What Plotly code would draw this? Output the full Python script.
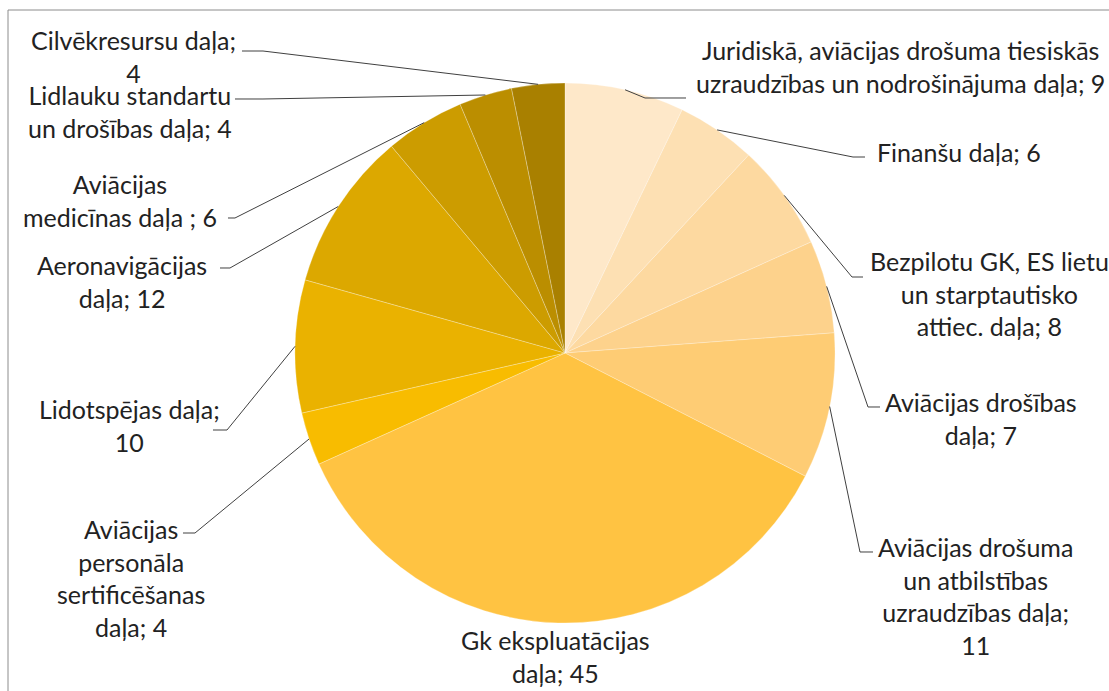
import math
import plotly.graph_objects as go

W, H = 1109, 691

categories = [
    "Juridiskā, aviācijas drošuma tiesiskās<br>uzraudzības un nodrošinājuma daļa; 9",
    "Finanšu daļa; 6",
    "Bezpilotu GK, ES lietu<br>un starptautisko<br>attiec. daļa; 8",
    "Aviācijas drošības<br>daļa; 7",
    "Aviācijas drošuma<br>un atbilstības<br>uzraudzības daļa;<br>11",
    "Gk ekspluatācijas<br>daļa; 45",
    "Aviācijas<br>personāla<br>sertificēšanas<br>daļa; 4",
    "Lidotspējas daļa;<br>10",
    "Aeronavigācijas<br>daļa; 12",
    "Aviācijas<br>medicīnas daļa ; 6",
    "Lidlauku standartu<br>un drošības daļa; 4",
    "Cilvēkresursu daļa;<br>4",
]
values = [9, 6, 8, 7, 11, 45, 4, 10, 12, 6, 4, 4]
colors = ["#FEE8C9", "#FDE0B3", "#FDD9A0", "#FDD28C", "#FECC74", "#FFC342",
          "#F8BC00", "#EAB200", "#DCA800", "#CC9C00", "#BB8E00", "#A98000"]

# layout (pixel positions of the pie and labels)
CX, CY, R = 565, 353, 270
label_pos = [(900, 66), (959, 152), (989, 294), (981, 418), (975, 596), (555, 656),
             (131, 578), (129, 425), (122, 281), (120, 200), (130, 112), (133, 56)]
elbows = [[(645, 98), (686, 98)], [(853, 157), (865, 157)], [(852, 277), (863, 277)],
          [(868, 407), (880, 407)], [(860, 552), (873, 552)], None,
          [(195, 533), (183, 533)], [(227, 430), (213, 430)], [(230, 268), (220, 268)],
          [(235, 218), (228, 218)], [(263, 99), (235, 99)], [(263, 51), (242, 51)]]

def px(x):
    return x / W

def py(y):
    return 1 - y / H

fig = go.Figure(go.Pie(
    values=values,
    labels=[c.replace("<br>", " ") for c in categories],
    sort=False,
    direction="clockwise",
    rotation=0,
    textinfo="none",
    hoverinfo="label",
    marker=dict(colors=colors, line=dict(color="rgba(255,255,255,0.45)", width=0.6)),
    domain=dict(x=[px(CX - R), px(CX + R)], y=[py(CY + R), py(CY - R)]),
    showlegend=False,
))

total = sum(values)
cum = 0
shapes = []
annotations = []
for i, v in enumerate(values):
    mid = (cum + v / 2) / total * 2 * math.pi
    cum += v
    ax = CX + R * math.sin(mid)
    ay = CY - R * math.cos(mid)
    if elbows[i] is not None:
        pts = [(ax, ay)] + elbows[i]
        path = "M " + " L ".join(f"{px(x):.5f},{py(y):.5f}" for x, y in pts)
        shapes.append(dict(type="path", path=path, xref="paper", yref="paper",
                           line=dict(color="#404040", width=1)))
    lx, ly = label_pos[i]
    annotations.append(dict(text=categories[i], x=px(lx), y=py(ly), xref="paper", yref="paper",
                            xanchor="center", yanchor="middle", showarrow=False, align="center",
                            font=dict(family="Lato", size=25, color="#222222")))

# chart frame
shapes.append(dict(type="rect", xref="paper", yref="paper", x0=px(8), y0=-0.05, x1=1.05, y1=py(10),
                   line=dict(color="#8c8c8c", width=1), fillcolor="rgba(0,0,0,0)", layer="below"))

fig.update_layout(
    width=W, height=H,
    margin=dict(l=0, r=0, t=0, b=0),
    paper_bgcolor="white",
    plot_bgcolor="white",
    shapes=shapes,
    annotations=annotations,
)

fig.write_html("out.html", config={"displayModeBar": False},
               post_script="document.body.style.margin='0';")
